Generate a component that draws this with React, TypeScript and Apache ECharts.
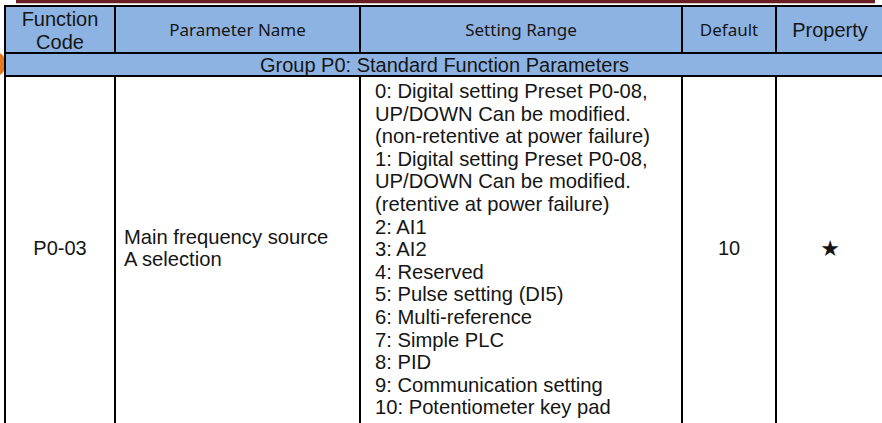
import React, { useEffect, useRef } from "react";
import * as echarts from "echarts";

// ---- table content ----
const headerLabels = ["Function|Code", "Parameter Name", "Setting Range", "Default", "Property"];
const groupTitle = "Group P0: Standard Function Parameters";
const functionCode = "P0-03";
const parameterName = ["Main frequency source", "A selection"];
const settingRange = [
  "0: Digital setting Preset P0-08,",
  "UP/DOWN Can be modified.",
  "(non-retentive at power failure)",
  "1: Digital setting Preset P0-08,",
  "UP/DOWN Can be modified.",
  "(retentive at power failure)",
  "2: AI1",
  "3: AI2",
  "4: Reserved",
  "5: Pulse setting (DI5)",
  "6: Multi-reference",
  "7: Simple PLC",
  "8: PID",
  "9: Communication setting",
  "10: Potentiometer key pad",
];
const defaultValue = "10";
const propertyMark = "★";

// ---- layout ----
const W = 882;
const H = 423;
const colX = [5, 115, 360, 682, 776, 884];
const headerTop = 6;
const headerBottom = 53;
const groupBottom = 76;
const bodyBottom = 430;
const lineGap = 22.6;
const firstLineY = 91;

const ARIAL = "Liberation Sans";
const CALIBRI = "Noto Sans";
const TEXT = "#151515";
const HEADER_BG = "#8db3e2";
const BORDER = "#000000";

function buildElements(): any[] {
  const els: any[] = [];
  // orange decorative circle at left edge
  els.push({ type: "circle", shape: { cx: -7, cy: 64, r: 13 }, style: { fill: "#e8761e" }, silent: true });
  // top dark red bar
  els.push({ type: "rect", shape: { x: 16, y: 0, width: 859, height: 3.3 }, style: { fill: "#6a1e22" }, silent: true });
  // backgrounds
  els.push({ type: "rect", shape: { x: colX[0], y: headerTop, width: colX[5] - colX[0], height: groupBottom - headerTop }, style: { fill: HEADER_BG }, silent: true });
  els.push({ type: "rect", shape: { x: colX[0], y: groupBottom, width: colX[5] - colX[0], height: bodyBottom - groupBottom }, style: { fill: "#ffffff" }, silent: true });

  const line = (x1: number, y1: number, x2: number, y2: number) =>
    els.push({ type: "line", shape: { x1, y1, x2, y2 }, style: { stroke: BORDER, lineWidth: 2 }, silent: true });

  // horizontal lines
  line(colX[0] - 1, headerTop, colX[5], headerTop);
  line(colX[0] - 1, headerBottom, colX[5], headerBottom);
  line(colX[0] - 1, groupBottom, colX[5], groupBottom);
  // outer left border
  line(colX[0], headerTop, colX[0], bodyBottom);
  // column dividers in header and body
  for (let i = 1; i < 5; i++) {
    line(colX[i], headerTop, colX[i], headerBottom);
    line(colX[i], groupBottom, colX[i], bodyBottom);
  }

  const text = (t: string, x: number, y: number, size: number, family: string, align = "center") =>
    els.push({
      type: "text",
      x,
      y,
      silent: true,
      style: { text: t, fontSize: size, fontFamily: family, fill: TEXT, align, verticalAlign: "middle" },
    });

  // header labels
  headerLabels.forEach((lab, i) => {
    const cx = (colX[i] + colX[i + 1]) / 2;
    const parts = lab.split("|");
    const useArial = i === 0 || i === 4;
    const fam = useArial ? ARIAL : CALIBRI;
    const size = useArial ? 20 : 17;
    if (parts.length === 2) {
      text(parts[0], cx, 19, size, fam);
      text(parts[1], cx, 41.5, size, fam);
    } else {
      text(parts[0], cx, 29.5, size, fam);
    }
  });

  // group title
  text(groupTitle, (colX[0] + colX[5]) / 2, 64.5, 20, ARIAL);

  // body
  const midY = 248;
  text(functionCode, (colX[0] + colX[1]) / 2, midY, 20, ARIAL);
  parameterName.forEach((t, i) => {
    text(t, colX[1] + 9, midY - lineGap / 2 + i * lineGap, 20.2, ARIAL, "left");
  });
  settingRange.forEach((t, i) => {
    text(t, colX[2] + 15, firstLineY + i * lineGap, 20.2, ARIAL, "left");
  });
  text(defaultValue, (colX[3] + colX[4]) / 2, midY, 20, ARIAL);
  text(propertyMark, (colX[4] + colX[5]) / 2, midY, 22, "DejaVu Sans");
  return els;
}

export default function App() {
  const ref = useRef<HTMLDivElement>(null);
  useEffect(() => {
    if (!ref.current) return;
    const chart = echarts.init(ref.current, undefined, { renderer: "svg" });
    chart.setOption({
      animation: false,
      backgroundColor: "#ffffff",
      graphic: { elements: buildElements() },
    });
    return () => chart.dispose();
  }, []);
  return (
    <div
      ref={ref}
      style={{ position: "fixed", left: 0, top: 0, width: W, height: H, background: "#ffffff" }}
    />
  );
}
